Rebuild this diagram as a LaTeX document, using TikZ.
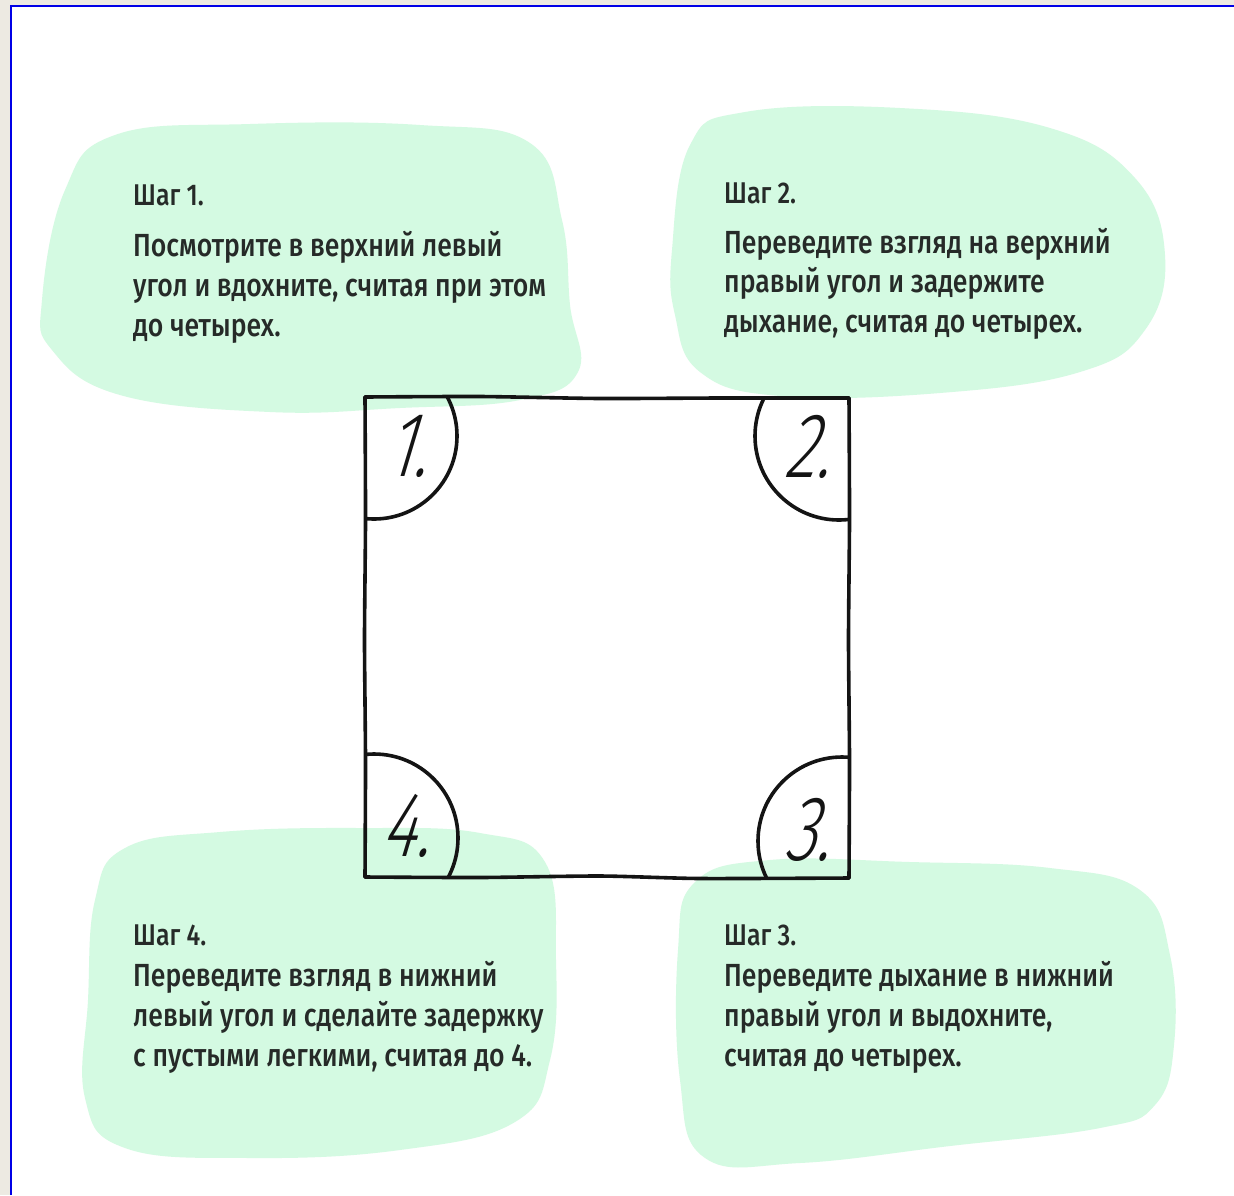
\documentclass[tikz,border=0pt]{standalone}
\usepackage{fontspec}
\IfFontExistsTF{Fira Sans Medium}
  {\newfontfamily\bodyf{Fira Sans Medium}[FakeStretch=0.83]}
  {\newfontfamily\bodyf{Fira Sans}[FakeStretch=0.83,FakeBold=0.8]}
\IfFontExistsTF{Fira Sans Light}
  {\newfontfamily\handf{Fira Sans Light}[FakeStretch=0.72,FakeSlant=0.3]}
  {\newfontfamily\handf{Fira Sans}[FakeStretch=0.72,FakeSlant=0.3]}
\definecolor{mint}{RGB}{212,250,226}
\definecolor{beige}{RGB}{237,234,226}
\definecolor{bordblue}{RGB}{0,0,230}
\definecolor{txt}{RGB}{38,42,40}
\newcommand\myheadfont{\bodyf\fontsize{30}{34}\selectfont}
\newcommand\mybodyfont{\bodyf\fontsize{32}{40}\selectfont}
\newcommand\myhandfont{\handf\fontsize{92}{96}\selectfont}
\tikzset{
  head/.style={font=\myheadfont, text=txt, anchor=base west, inner sep=0pt},
  body/.style={font=\mybodyfont, text=txt, anchor=base west, inner sep=0pt},
  blob/.style={fill=mint, draw=none},
  sq/.style={line width=3.6pt, draw=black!92, line cap=round, line join=round},
  num/.style={font=\myhandfont, text=black!92, inner sep=0pt, anchor=center}
}
\begin{document}
\begin{tikzpicture}[x=1pt,y=-1pt]
\useasboundingbox (0,0) rectangle (1234,1195);
\fill[white] (0,0) rectangle (1234,1195);
\fill[beige] (0,0) rectangle (1234,5);
\fill[beige] (0,0) rectangle (10,1195);
\draw[bordblue, line width=2.3pt] (11,1195) -- (11,6) -- (1234,6);

% blobs
\fill[blob] plot[smooth cycle, tension=0.7] coordinates {
  (42,300) (65,190) (115,135) (250,124) (420,125) (530,143) (562,220)
  (570,305) (578,372) (520,400) (400,408) (270,412) (120,395) (52,350)};
\fill[blob] plot[smooth cycle, tension=0.7] coordinates {
  (672,250) (690,145) (745,112) (900,108) (1050,128) (1135,178)
  (1165,255) (1145,330) (1080,372) (940,393) (780,396) (700,372) (675,315)};
\fill[blob] plot[smooth cycle, tension=0.7] coordinates {
  (95,900) (125,848) (220,832) (360,828) (480,833) (545,862) (556,960)
  (550,1060) (515,1122) (400,1150) (250,1158) (125,1148) (85,1098) (88,1000)};
\fill[blob] plot[smooth cycle, tension=0.7] coordinates {
  (678,950) (695,882) (770,860) (910,862) (1050,868) (1140,890) (1170,955)
  (1174,1045) (1155,1105) (1100,1128) (950,1146) (800,1163) (705,1158) (680,1080)};

% corner arcs (clipped to the square)
\begin{scope}
  \clip (365,397) rectangle (849,878);
  \draw[sq] (374,436) circle[radius=83];
  \draw[sq] (839,436) circle[radius=84];
  \draw[sq] (842,841) circle[radius=84];
  \draw[sq] (374,838) circle[radius=84];
\end{scope}

% square (hand-drawn)
\coordinate (tl) at (365,397);
\coordinate (tr) at (849,398);
\coordinate (br) at (849,878);
\coordinate (bl) at (365,877);
\draw[sq] plot[smooth, tension=0.4] coordinates {(tl) (480,396.5) (600,398.5) (720,398) (tr)};
\draw[sq] plot[smooth, tension=0.4] coordinates {(tr) (849.5,520) (848.5,640) (849.5,760) (br)};
\draw[sq] plot[smooth, tension=0.4] coordinates {(br) (700,878.5) (600,876) (480,877.5) (bl)};
\draw[sq] plot[smooth, tension=0.4] coordinates {(bl) (365.5,760) (364.5,640) (365.5,520) (tl)};

% numbers
\node[num] (n1) at (406,446) {1.};
\node[num] (n2) at (806,447) {2.};
\node[num] (n3) at (806,830) {3.};
\node[num] (n4) at (405,826) {4.};

% step 1
\node[head] (h1) at (133,205) {Шаг 1.};
\node[body] (a1) at (133,256) {Посмотрите в верхний левый};
\node[body] (a2) at (133,296) {угол и вдохните, считая при этом};
\node[body] (a3) at (133,336) {до четырех.};
% step 2
\node[head] (h2) at (724,203) {Шаг 2.};
\node[body] (b1) at (724,253) {Переведите взгляд на верхний};
\node[body] (b2) at (724,292) {правый угол и задержите};
\node[body] (b3) at (724,332) {дыхание, считая до четырех.};
% step 4
\node[head] (h4) at (133,945) {Шаг 4.};
\node[body] (d1) at (133,986) {Переведите взгляд в нижний};
\node[body] (d2) at (133,1026) {левый угол и сделайте задержку};
\node[body] (d3) at (133,1066) {с пустыми легкими, считая до 4.};
% step 3
\node[head] (h3) at (724,945) {Шаг 3.};
\node[body] (c1) at (724,986) {Переведите дыхание в нижний};
\node[body] (c2) at (724,1026) {правый угол и выдохните,};
\node[body] (c3) at (724,1066) {считая до четырех.};
\end{tikzpicture}
\end{document}
